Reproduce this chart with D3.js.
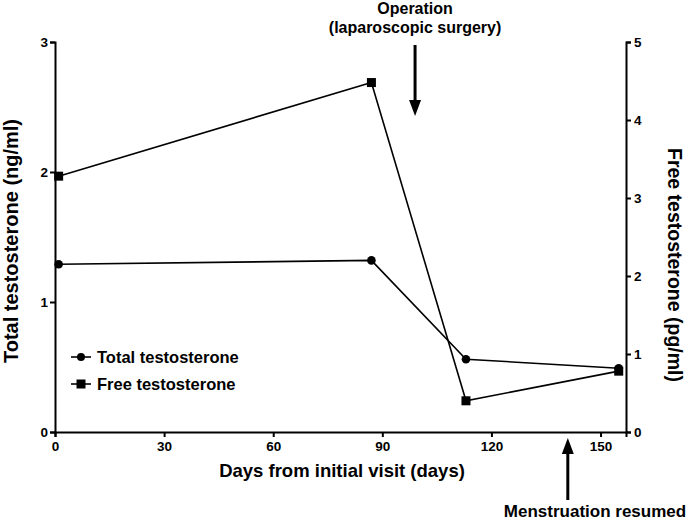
<!DOCTYPE html>
<html><head><meta charset="utf-8">
<script src="https://cdn.jsdelivr.net/npm/d3@7"></script>
<style>body{margin:0;background:#fff}svg{display:block}text{font-family:"Liberation Sans",Arial,sans-serif;font-weight:bold;fill:#000}</style>
</head><body>
<svg id="c" width="688" height="520"></svg>
<script>
const days = [1, 87, 113, 155];
const totalT = [1.29, 1.32, 0.56, 0.49];
const freeT = [3.28, 4.48, 0.40, 0.78];
const xTicks = [0, 30, 60, 90, 120, 150];
const leftTicks = [0, 1, 2, 3];
const rightTicks = [0, 1, 2, 3, 4, 5];
const operationDay = 99;
const menstruationDay = 141;

const svg = d3.select("#c");
const L = 55, R = 626, T = 42, B = 432;
const x = d3.scaleLinear().domain([0, 157]).range([L, R]);
const yL = d3.scaleLinear().domain([0, 3]).range([B, T]);
const yR = d3.scaleLinear().domain([0, 5]).range([B, T]);
const fmt = d3.format("d");

function styleAxis(g){
  g.selectAll("path,line").attr("stroke","#000").attr("stroke-width",2);
  g.selectAll("text").attr("font-size",13.5).attr("font-weight","bold").attr("font-family","Liberation Sans, Arial, sans-serif");
}
svg.append("g").attr("transform",`translate(0,${B})`)
  .call(d3.axisBottom(x).tickValues(xTicks).tickFormat(fmt).tickSizeOuter(0).tickSize(5).tickPadding(4))
  .call(styleAxis);
svg.append("g").attr("transform",`translate(${L},0)`)
  .call(d3.axisLeft(yL).tickValues(leftTicks).tickFormat(fmt).tickSizeOuter(0).tickSize(5).tickPadding(2))
  .call(styleAxis);
svg.append("g").attr("transform",`translate(${R},0)`)
  .call(d3.axisRight(yR).tickValues(rightTicks).tickFormat(fmt).tickSizeOuter(0).tickSize(5).tickPadding(3))
  .call(styleAxis);

const lineT = d3.line().x((d,i)=>x(days[i])).y(d=>yL(d));
const lineF = d3.line().x((d,i)=>x(days[i])).y(d=>yR(d));
svg.append("path").attr("d",lineT(totalT)).attr("fill","none").attr("stroke","#000").attr("stroke-width",1.6);
svg.append("path").attr("d",lineF(freeT)).attr("fill","none").attr("stroke","#000").attr("stroke-width",1.6);
svg.selectAll("circle.t").data(totalT).join("circle").attr("class","t")
  .attr("cx",(d,i)=>x(days[i])).attr("cy",d=>yL(d)).attr("r",4.3).attr("fill","#000");
svg.selectAll("rect.f").data(freeT).join("rect").attr("class","f")
  .attr("x",(d,i)=>x(days[i])-4.5).attr("y",d=>yR(d)-4.5).attr("width",9).attr("height",9).attr("fill","#000");

// legend
const lg = svg.append("g");
lg.append("line").attr("x1",71).attr("x2",91).attr("y1",357).attr("y2",357).attr("stroke","#000").attr("stroke-width",1.6);
lg.append("circle").attr("cx",81).attr("cy",357).attr("r",4).attr("fill","#000");
lg.append("text").attr("x",97).attr("y",363).attr("font-size",16.5).text("Total testosterone");
lg.append("line").attr("x1",71).attr("x2",91).attr("y1",384).attr("y2",384).attr("stroke","#000").attr("stroke-width",1.6);
lg.append("rect").attr("x",76.5).attr("y",379.5).attr("width",9).attr("height",9).attr("fill","#000");
lg.append("text").attr("x",97).attr("y",390).attr("font-size",16.5).text("Free testosterone");

// axis titles
svg.append("text").attr("x",342).attr("y",477).attr("text-anchor","middle").attr("font-size",18.5).text("Days from initial visit (days)");
svg.append("text").attr("transform","translate(18,241) rotate(-90)").attr("text-anchor","middle").attr("font-size",20).text("Total testosterone (ng/ml)");
svg.append("text").attr("transform","translate(668,265) rotate(90)").attr("text-anchor","middle").attr("font-size",19.5).text("Free testosterone (pg/ml)");

// annotations
const ox = x(operationDay);
svg.append("text").attr("x",ox).attr("y",14).attr("text-anchor","middle").attr("font-size",16).text("Operation");
svg.append("text").attr("x",ox).attr("y",33).attr("text-anchor","middle").attr("font-size",16).text("(laparoscopic surgery)");
svg.append("line").attr("x1",ox).attr("x2",ox).attr("y1",45).attr("y2",102).attr("stroke","#000").attr("stroke-width",3);
svg.append("path").attr("d",`M${ox-6},100 L${ox+6},100 L${ox},116 Z`).attr("fill","#000");

const mx = x(menstruationDay);
svg.append("line").attr("x1",mx).attr("x2",mx).attr("y1",500).attr("y2",452).attr("stroke","#000").attr("stroke-width",3);
svg.append("path").attr("d",`M${mx-6},454 L${mx+6},454 L${mx},438 Z`).attr("fill","#000");
svg.append("text").attr("x",595).attr("y",517).attr("text-anchor","middle").attr("font-size",17).text("Menstruation resumed");
</script>
</body></html>
